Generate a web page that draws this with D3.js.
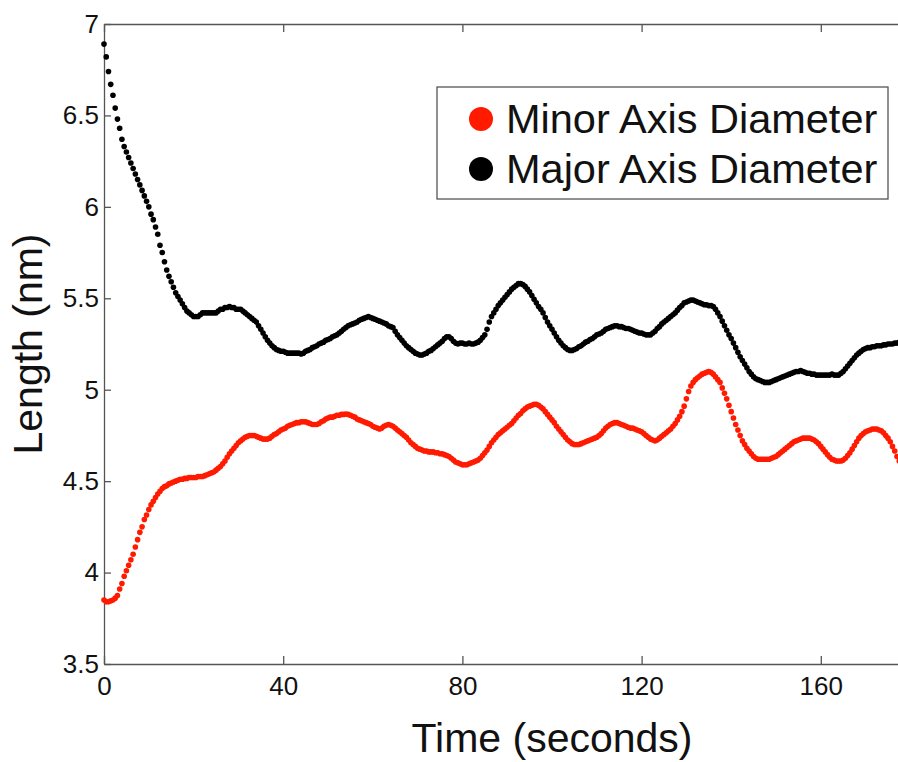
<!DOCTYPE html>
<html>
<head>
<meta charset="utf-8">
<script src="https://cdn.jsdelivr.net/npm/d3@7"></script>
<style>
  body { margin: 0; background: #fff; }
  svg { display: block; font-family: "Liberation Sans", Arial, Helvetica, sans-serif; }
</style>
</head>
<body>
<svg id="chart" width="898" height="762"></svg>
<script>
"use strict";

// one sample every half second
var sampleStep = 0.5;

var minorDiameter = [
  3.85, 3.84, 3.84, 3.845, 3.85, 3.86, 3.875, 3.91, 3.94, 3.98,
  4.01, 4.04, 4.07, 4.10, 4.14, 4.18, 4.22, 4.25, 4.29, 4.315,
  4.345, 4.37, 4.39, 4.41, 4.43, 4.445, 4.46, 4.47, 4.475, 4.485,
  4.49, 4.495, 4.50, 4.505, 4.51, 4.51, 4.515, 4.515, 4.52, 4.52,
  4.52, 4.52, 4.525, 4.525, 4.525, 4.53, 4.535, 4.54, 4.545, 4.55,
  4.56, 4.57, 4.58, 4.595, 4.61, 4.63, 4.65, 4.665, 4.68, 4.695,
  4.71, 4.72, 4.73, 4.74, 4.745, 4.75, 4.75, 4.75, 4.745, 4.74,
  4.735, 4.73, 4.73, 4.73, 4.735, 4.745, 4.755, 4.76, 4.77, 4.78,
  4.785, 4.79, 4.80, 4.805, 4.81, 4.815, 4.82, 4.82, 4.825, 4.825,
  4.825, 4.82, 4.815, 4.81, 4.81, 4.81, 4.815, 4.825, 4.83, 4.84,
  4.845, 4.85, 4.85, 4.855, 4.86, 4.86, 4.865, 4.865, 4.867, 4.865,
  4.86, 4.855, 4.85, 4.84, 4.835, 4.83, 4.825, 4.82, 4.815, 4.81,
  4.80, 4.795, 4.79, 4.785, 4.79, 4.80, 4.805, 4.81, 4.805, 4.80,
  4.79, 4.78, 4.77, 4.76, 4.75, 4.74, 4.725, 4.71, 4.70, 4.69,
  4.68, 4.675, 4.67, 4.665, 4.665, 4.66, 4.66, 4.66, 4.655, 4.655,
  4.65, 4.65, 4.645, 4.64, 4.635, 4.625, 4.615, 4.605, 4.60, 4.595,
  4.59, 4.59, 4.59, 4.595, 4.60, 4.605, 4.61, 4.615, 4.625, 4.64,
  4.655, 4.67, 4.69, 4.71, 4.725, 4.74, 4.755, 4.765, 4.775, 4.785,
  4.795, 4.805, 4.815, 4.83, 4.845, 4.86, 4.87, 4.885, 4.895, 4.905,
  4.91, 4.915, 4.92, 4.92, 4.915, 4.905, 4.895, 4.88, 4.865, 4.85,
  4.835, 4.82, 4.80, 4.785, 4.77, 4.755, 4.74, 4.725, 4.715, 4.705,
  4.70, 4.70, 4.70, 4.705, 4.71, 4.715, 4.72, 4.725, 4.73, 4.735,
  4.74, 4.75, 4.76, 4.775, 4.79, 4.80, 4.81, 4.815, 4.82, 4.82,
  4.815, 4.81, 4.805, 4.80, 4.795, 4.79, 4.79, 4.785, 4.78, 4.775,
  4.77, 4.76, 4.75, 4.74, 4.73, 4.725, 4.72, 4.725, 4.735, 4.745,
  4.755, 4.765, 4.775, 4.785, 4.80, 4.815, 4.835, 4.855, 4.88, 4.91,
  4.95, 4.99, 5.02, 5.04, 5.055, 5.065, 5.075, 5.085, 5.09, 5.095,
  5.10, 5.095, 5.085, 5.07, 5.055, 5.04, 5.01, 4.98, 4.95, 4.915,
  4.88, 4.845, 4.81, 4.78, 4.75, 4.72, 4.70, 4.68, 4.665, 4.65,
  4.635, 4.625, 4.62, 4.62, 4.62, 4.62, 4.62, 4.62, 4.625, 4.63,
  4.635, 4.645, 4.655, 4.665, 4.675, 4.685, 4.695, 4.705, 4.715, 4.72,
  4.725, 4.73, 4.735, 4.735, 4.735, 4.735, 4.73, 4.725, 4.715, 4.705,
  4.69, 4.675, 4.66, 4.645, 4.63, 4.62, 4.615, 4.61, 4.61, 4.61,
  4.615, 4.625, 4.64, 4.655, 4.675, 4.695, 4.715, 4.735, 4.75, 4.76,
  4.77, 4.775, 4.78, 4.785, 4.785, 4.785, 4.78, 4.775, 4.765, 4.75,
  4.735, 4.715, 4.69, 4.665, 4.635, 4.61
];

var majorDiameter = [
  6.89, 6.82, 6.74, 6.67, 6.61, 6.54, 6.48, 6.43, 6.37, 6.33,
  6.30, 6.27, 6.24, 6.21, 6.18, 6.15, 6.12, 6.09, 6.06, 6.03,
  6.00, 5.96, 5.93, 5.89, 5.85, 5.79, 5.75, 5.70, 5.655, 5.62,
  5.59, 5.56, 5.53, 5.51, 5.49, 5.47, 5.45, 5.43, 5.42, 5.41,
  5.40, 5.40, 5.40, 5.41, 5.42, 5.42, 5.42, 5.42, 5.42, 5.42,
  5.42, 5.43, 5.44, 5.44, 5.45, 5.45, 5.455, 5.45, 5.45, 5.44,
  5.44, 5.44, 5.43, 5.42, 5.41, 5.40, 5.39, 5.38, 5.37, 5.35,
  5.33, 5.31, 5.29, 5.27, 5.255, 5.24, 5.23, 5.22, 5.215, 5.21,
  5.21, 5.205, 5.20, 5.20, 5.20, 5.20, 5.20, 5.20, 5.195, 5.20,
  5.21, 5.215, 5.22, 5.23, 5.235, 5.24, 5.25, 5.255, 5.26, 5.27,
  5.275, 5.28, 5.29, 5.295, 5.30, 5.31, 5.32, 5.33, 5.34, 5.35,
  5.355, 5.36, 5.365, 5.37, 5.38, 5.385, 5.39, 5.395, 5.40, 5.395,
  5.39, 5.385, 5.38, 5.375, 5.37, 5.365, 5.36, 5.35, 5.345, 5.34,
  5.32, 5.30, 5.285, 5.27, 5.255, 5.24, 5.23, 5.22, 5.21, 5.20,
  5.195, 5.19, 5.19, 5.195, 5.20, 5.21, 5.215, 5.225, 5.235, 5.245,
  5.255, 5.265, 5.28, 5.29, 5.29, 5.28, 5.265, 5.255, 5.25, 5.255,
  5.255, 5.25, 5.25, 5.255, 5.25, 5.25, 5.255, 5.26, 5.27, 5.285,
  5.30, 5.33, 5.37, 5.40, 5.42, 5.44, 5.46, 5.475, 5.49, 5.505,
  5.52, 5.535, 5.55, 5.56, 5.57, 5.58, 5.58, 5.575, 5.565, 5.55,
  5.535, 5.515, 5.495, 5.475, 5.455, 5.44, 5.42, 5.395, 5.37, 5.35,
  5.33, 5.31, 5.29, 5.27, 5.255, 5.24, 5.23, 5.22, 5.215, 5.215,
  5.22, 5.225, 5.235, 5.24, 5.25, 5.26, 5.265, 5.275, 5.28, 5.29,
  5.30, 5.305, 5.31, 5.32, 5.33, 5.335, 5.34, 5.345, 5.35, 5.35,
  5.345, 5.345, 5.34, 5.335, 5.335, 5.33, 5.325, 5.32, 5.315, 5.31,
  5.31, 5.305, 5.30, 5.30, 5.30, 5.31, 5.32, 5.335, 5.345, 5.36,
  5.37, 5.38, 5.39, 5.40, 5.41, 5.42, 5.435, 5.45, 5.46, 5.475,
  5.48, 5.485, 5.49, 5.49, 5.485, 5.48, 5.475, 5.47, 5.465, 5.465,
  5.46, 5.46, 5.455, 5.44, 5.42, 5.40, 5.375, 5.35, 5.325, 5.30,
  5.28, 5.255, 5.23, 5.205, 5.18, 5.16, 5.14, 5.12, 5.10, 5.085,
  5.07, 5.06, 5.055, 5.05, 5.045, 5.04, 5.04, 5.04, 5.045, 5.05,
  5.055, 5.06, 5.065, 5.07, 5.075, 5.08, 5.085, 5.09, 5.095, 5.10,
  5.10, 5.105, 5.10, 5.095, 5.09, 5.09, 5.085, 5.085, 5.08, 5.08,
  5.08, 5.08, 5.08, 5.08, 5.08, 5.085, 5.08, 5.08, 5.08, 5.09,
  5.10, 5.115, 5.13, 5.145, 5.16, 5.175, 5.19, 5.20, 5.21, 5.22,
  5.225, 5.23, 5.23, 5.235, 5.235, 5.24, 5.24, 5.24, 5.245, 5.245,
  5.25, 5.25, 5.25, 5.255, 5.255, 5.26
];

// the 200 s end of the axis falls past the page edge, so only these show
var xTicks = [0, 40, 80, 120, 160];
var yTicks = [3.5, 4, 4.5, 5, 5.5, 6, 6.5, 7];
var seriesNames = ["Minor Axis Diameter", "Major Axis Diameter"];
var seriesColors = ["#ff1a00", "#000000"];

(function() {
  var svg = d3.select("#chart");

  // axes box; the right part of the figure is cut off at the page edge
  var box = { left: 104, top: 24, right: 1000, bottom: 664 };
  var axisColor = "#555";

  var x = d3.scaleLinear().domain([0, 200]).range([box.left, box.right]);
  var y = d3.scaleLinear().domain([3.5, 7]).range([box.bottom, box.top]);

  var series = [minorDiameter, majorDiameter].map(function(values, i) {
    return {
      name: seriesNames[i],
      color: seriesColors[i],
      points: values.map(function(v, k) {
        return { t: k * sampleStep, v: v };
      })
    };
  });

  var styleAxis = function(g) {
    g.select(".domain").attr("stroke", axisColor).attr("stroke-width", 1.3);
    g.selectAll(".tick line").attr("stroke", axisColor).attr("stroke-width", 1.3);
    g.selectAll(".tick text")
      .attr("fill", "#111")
      .style("font-size", "26px")
      .style("font-family", "'Liberation Sans', Arial, sans-serif");
  };

  svg.append("g")
    .attr("transform", "translate(0," + box.bottom + ")")
    .call(d3.axisBottom(x).tickValues(xTicks).tickFormat(d3.format("d"))
      .tickSizeInner(-8).tickSizeOuter(0).tickPadding(13))
    .call(styleAxis);

  svg.append("g")
    .attr("transform", "translate(0," + box.top + ")")
    .call(d3.axisTop(x).tickValues(xTicks).tickFormat("")
      .tickSizeInner(-8).tickSizeOuter(0))
    .call(styleAxis);

  svg.append("g")
    .attr("transform", "translate(" + box.left + ",0)")
    .call(d3.axisLeft(y).tickValues(yTicks).tickFormat(d3.format("~g"))
      .tickSizeInner(-7).tickSizeOuter(0).tickPadding(5))
    .call(styleAxis);

  // data dots
  var gxSeries = svg.selectAll("g.series")
    .data(series)
    .enter()
    .append("g")
    .classed("series", true)
    .attr("fill", function(s) { return s.color; });

  gxSeries.selectAll("circle")
    .data(function(s) { return s.points; })
    .enter()
    .append("circle")
    .attr("cx", function(p) { return x(p.t); })
    .attr("cy", function(p) { return y(p.v); })
    .attr("r", 2.8);

  // axis titles
  svg.append("text")
    .attr("x", (box.left + box.right) / 2)
    .attr("y", 752)
    .attr("text-anchor", "middle")
    .style("font-size", "41px")
    .attr("fill", "#111")
    .text("Time (seconds)");

  svg.append("text")
    .attr("transform", "translate(42," + ((box.top + box.bottom) / 2) + ") rotate(-90)")
    .attr("text-anchor", "middle")
    .style("font-size", "41px")
    .attr("fill", "#111")
    .text("Length (nm)");

  // legend
  var legend = svg.append("g").attr("transform", "translate(437,87)");
  legend.append("rect")
    .attr("width", 451)
    .attr("height", 112)
    .attr("fill", "#fff")
    .attr("stroke", axisColor)
    .attr("stroke-width", 1.3);

  var rows = legend.selectAll("g.row")
    .data(series)
    .enter()
    .append("g")
    .classed("row", true)
    .attr("transform", function(s, i) { return "translate(0," + (i * 50) + ")"; });

  rows.append("circle")
    .attr("cx", 44)
    .attr("cy", 32)
    .attr("r", 12)
    .attr("fill", function(s) { return s.color; });

  rows.append("text")
    .attr("x", 69)
    .attr("y", 46)
    .style("font-size", "41.5px")
    .attr("fill", "#111")
    .text(function(s) { return s.name; });
})();
</script>
</body>
</html>
